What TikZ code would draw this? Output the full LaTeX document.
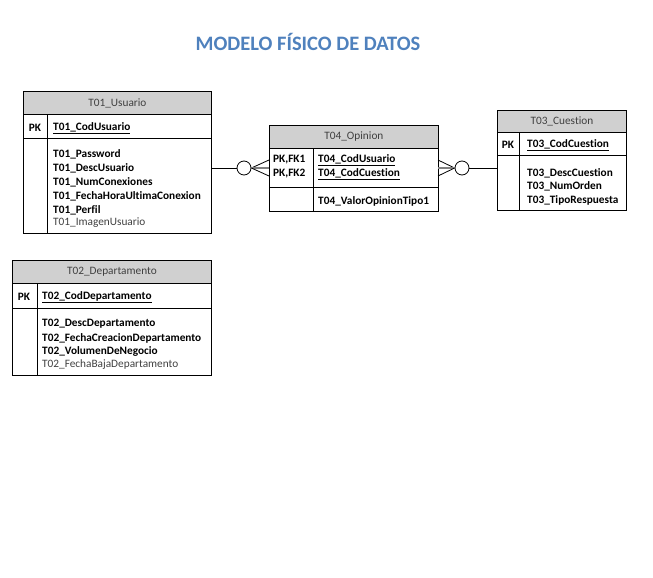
\documentclass[tikz,border=0pt]{standalone}
\usepackage{fontspec}
\setmainfont{Carlito}[Ligatures={NoCommon}]
\usetikzlibrary{positioning}
\definecolor{titleblue}{RGB}{79,129,189}
\definecolor{hdrgrey}{RGB}{208,208,208}
\definecolor{txtgrey}{RGB}{64,64,64}
\begin{document}
\begin{tikzpicture}[x=1pt, y=-1pt,
        box/.style={draw, line width=0.8pt, anchor=north west, inner sep=0pt},
        hdr/.style={box, fill=hdrgrey, text=txtgrey, font=\fontsize{11.3}{13}\selectfont},
        fld/.style={anchor=west, inner sep=0pt, yshift=-1pt, font=\bfseries\fontsize{11.3}{13}\selectfont},
        plain/.style={anchor=west, inner sep=0pt, yshift=-1pt, text=txtgrey, font=\fontsize{11.3}{13}\selectfont},
        link/.style={line width=0.8pt},
        ring/.style={draw, circle, line width=0.8pt, fill=white, minimum size=14pt, inner sep=0pt}
      ]
      \useasboundingbox (0,0) rectangle (653,578);

      \node[inner sep=0pt, text=titleblue, font=\bfseries\fontsize{20.5}{24}\selectfont] (title) at (308,42) {MODELO FÍSICO DE DATOS};

      % T01_Usuario
      \node[hdr, minimum width=188pt, minimum height=23pt] (usuarioH) at (23,91) {T01\_Usuario};
      \node[box, minimum width=188pt, minimum height=24pt] (usuarioK) at (23,114) {};
      \node[box, minimum width=188pt, minimum height=95pt] (usuarioB) at (23,138) {};
      \draw[link] (47,114) -- (47,233);
      \node[fld, anchor=center] (usuarioPK) at (35,127) {PK};
      \node[fld] (u0) at (53,127) {\underline{T01\_CodUsuario}};
      \node[fld] (u1) at (53,153) {T01\_Password};
      \node[fld] (u2) at (53,167) {T01\_DescUsuario};
      \node[fld] (u3) at (53,181) {T01\_NumConexiones};
      \node[fld] (u4) at (53,195) {T01\_FechaHoraUltimaConexion};
      \node[fld] (u5) at (53,209) {T01\_Perfil};
      \node[plain] (u6) at (53,222) {T01\_ImagenUsuario};

      % T04_Opinion
      \node[hdr, minimum width=169pt, minimum height=23pt] (opinionH) at (269,125) {T04\_Opinion};
      \node[box, minimum width=169pt, minimum height=39pt] (opinionK) at (269,148) {};
      \node[box, minimum width=169pt, minimum height=24pt] (opinionB) at (269,187) {};
      \draw[link] (313,148) -- (313,211);
      \node[fld] (opinionPK1) at (273,159) {PK,FK1};
      \node[fld] (opinionPK2) at (273,173) {PK,FK2};
      \node[fld] (o0) at (318,159) {\underline{T04\_CodUsuario}};
      \node[fld] (o1) at (318,173) {\underline{T04\_CodCuestion}};
      \node[fld] (o2) at (318,200) {T04\_ValorOpinionTipo1};

      % T03_Cuestion
      \node[hdr, minimum width=129pt, minimum height=22pt] (cuestionH) at (497,110) {T03\_Cuestion};
      \node[box, minimum width=129pt, minimum height=23pt] (cuestionK) at (497,132) {};
      \node[box, minimum width=129pt, minimum height=55pt] (cuestionB) at (497,155) {};
      \draw[link] (519,132) -- (519,210);
      \node[fld, anchor=center] (cuestionPK) at (508,144) {PK};
      \node[fld] (c0) at (527,144) {\underline{T03\_CodCuestion}};
      \node[fld] (c1) at (527,172) {T03\_DescCuestion};
      \node[fld] (c2) at (527,185) {T03\_NumOrden};
      \node[fld] (c3) at (527,199) {T03\_TipoRespuesta};

      % T02_Departamento
      \node[hdr, minimum width=199pt, minimum height=23pt] (departamentoH) at (12,260) {T02\_Departamento};
      \node[box, minimum width=199pt, minimum height=25pt] (departamentoK) at (12,283) {};
      \node[box, minimum width=199pt, minimum height=67pt] (departamentoB) at (12,308) {};
      \draw[link] (37,283) -- (37,375);
      \node[fld, anchor=center] (departamentoPK) at (24,296) {PK};
      \node[fld] (d0) at (42,296) {\underline{T02\_CodDepartamento}};
      \node[fld] (d1) at (42,323) {T02\_DescDepartamento};
      \node[fld] (d2) at (42,337) {T02\_FechaCreacionDepartamento};
      \node[fld] (d3) at (42,350) {T02\_VolumenDeNegocio};
      \node[plain] (d4) at (42,364) {T02\_FechaBajaDepartamento};

      % relaciones
      \node[ring] (ringU) at (244,168) {};
      \node[ring] (ringC) at (462,168) {};
      \coordinate (footU1) at (269,160);
      \coordinate (footU2) at (269,168);
      \coordinate (footU3) at (269,176);
      \coordinate (footC1) at (438,160);
      \coordinate (footC2) at (438,168);
      \coordinate (footC3) at (438,176);
      \coordinate (usuarioE) at (211,168);
      \coordinate (cuestionW) at (497,168);

      \draw[link] (usuarioE) -- (ringU.west);
      \draw[link] (ringU.east) -- (footU1);
      \draw[link, gray, line width=1.4pt] (ringU.east) -- (footU2);
      \draw[link] (ringU.east) -- (footU3);
      \draw[link] (cuestionW) -- (ringC.east);
      \draw[link] (ringC.west) -- (footC1);
      \draw[link, gray, line width=1.4pt] (ringC.west) -- (footC2);
      \draw[link] (ringC.west) -- (footC3);
    \end{tikzpicture}
\end{document}
